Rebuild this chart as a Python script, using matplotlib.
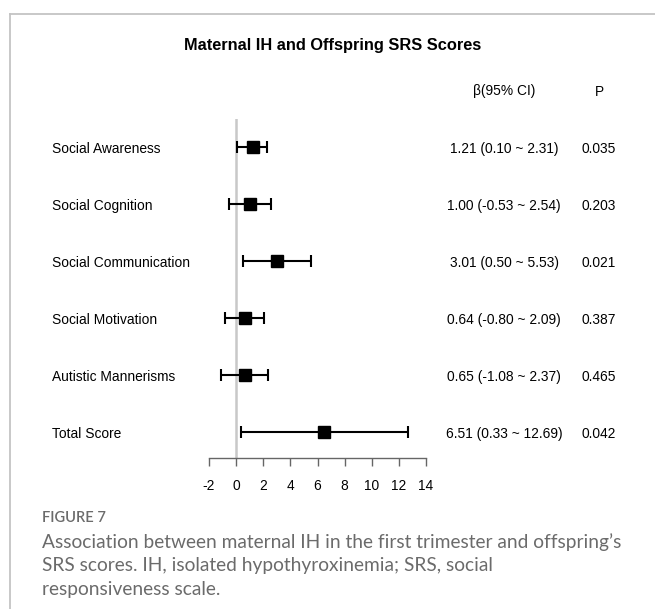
import numpy as np
import matplotlib

matplotlib.use("Agg")
import matplotlib.pyplot as plt
from matplotlib.lines import Line2D
import matplotlib.transforms as mtransforms

plt.rcParams.update(
    {
        "font.family": ["Liberation Sans", "DejaVu Sans"],
        "font.size": 9.9,
    }
)

# Forest plot data
outcomes = [
    "Social Awareness",
    "Social Cognition",
    "Social Communication",
    "Social Motivation",
    "Autistic Mannerisms",
    "Total Score",
]
beta = [1.21, 1.00, 3.01, 0.64, 0.65, 6.51]
ci_low = [0.10, -0.53, 0.50, -0.80, -1.08, 0.33]
ci_high = [2.31, 2.54, 5.53, 2.09, 2.37, 12.69]
p_values = ["0.035", "0.203", "0.021", "0.387", "0.465", "0.042"]
x_ticks = np.arange(-2, 15, 2)

W, H = 655, 609
fig = plt.figure(figsize=(W / 100, H / 100), dpi=100)


def px(x, y):
    """pixel coords (top-left origin) -> figure fraction"""
    return x / W, 1 - y / H


# panel frame (top and left edges only)
fig.add_artist(Line2D([10 / W, 1], [1 - 14 / H] * 2, color="#c4c4c4", lw=1.3))
fig.add_artist(Line2D([10 / W] * 2, [1 - 14 / H, 0], color="#c4c4c4", lw=1.3))

ax_l, ax_r, ax_b, ax_t = 209, 426, 458, 119
ax = fig.add_axes(
    [ax_l / W, 1 - ax_b / H, (ax_r - ax_l) / W, (ax_b - ax_t) / H]
)

ypos = np.arange(len(outcomes), 0, -1)
ax.axvline(0, color="#c8c8c8", lw=1.8, zorder=1)
beta_a = np.array(beta)
err = [beta_a - np.array(ci_low), np.array(ci_high) - beta_a]
ax.errorbar(
    beta, ypos, xerr=err, fmt="s", color="black", ms=9, elinewidth=1.5,
    capsize=4.5, capthick=1.5, zorder=3,
)

ax.set_xlim(-2, 14)
ax.set_ylim(0.55, len(outcomes) + 0.5)
ax.set_xticks(x_ticks)
ax.set_xticklabels([str(t) for t in x_ticks])
ax.set_yticks([])
for side in ["top", "right", "left"]:
    ax.spines[side].set_visible(False)
ax.spines["bottom"].set_color("#666666")
ax.spines["bottom"].set_linewidth(1.0)
ax.tick_params(axis="x", direction="out", length=6, width=1.0, color="#666666",
               pad=9, labelsize=9.9)
ax.patch.set_alpha(0)

# row labels and text columns
trans = mtransforms.blended_transform_factory(fig.transFigure, ax.transData)
for y, name, b, lo, hi, p in zip(ypos, outcomes, beta, ci_low, ci_high, p_values):
    ax.text(52 / W, y, name, transform=trans, ha="left", va="center_baseline")
    ax.text(504 / W, y, f"{b:.2f} ({lo:.2f} ~ {hi:.2f})", transform=trans,
            ha="center", va="center_baseline")
    ax.text(599 / W, y, p, transform=trans, ha="center", va="center_baseline")

fig.text(*px(504, 90), "β(95% CI)", ha="center", va="center_baseline")
fig.text(*px(599, 90), "P", ha="center", va="center_baseline")
fig.text(*px(333, 44), "Maternal IH and Offspring SRS Scores", ha="center",
         va="center_baseline", fontsize=11.8, fontweight="bold")

# caption
cap_color = "#6b6b6b"
fig.text(*px(42, 517), "FIGURE 7", ha="left", va="center_baseline",
         fontsize=10.5, color=cap_color, family="Lato", fontweight="semibold")
caption = [
    "Association between maternal IH in the first trimester and offspring\u2019s",
    "SRS scores. IH, isolated hypothyroxinemia; SRS, social",
    "responsiveness scale.",
]
for i, line in enumerate(caption):
    fig.text(*px(42, 541 + 23.5 * i), line, ha="left", va="center_baseline",
             fontsize=13.75, color=cap_color, family="Lato")

fig.savefig("out.png", dpi=100, facecolor="white")
